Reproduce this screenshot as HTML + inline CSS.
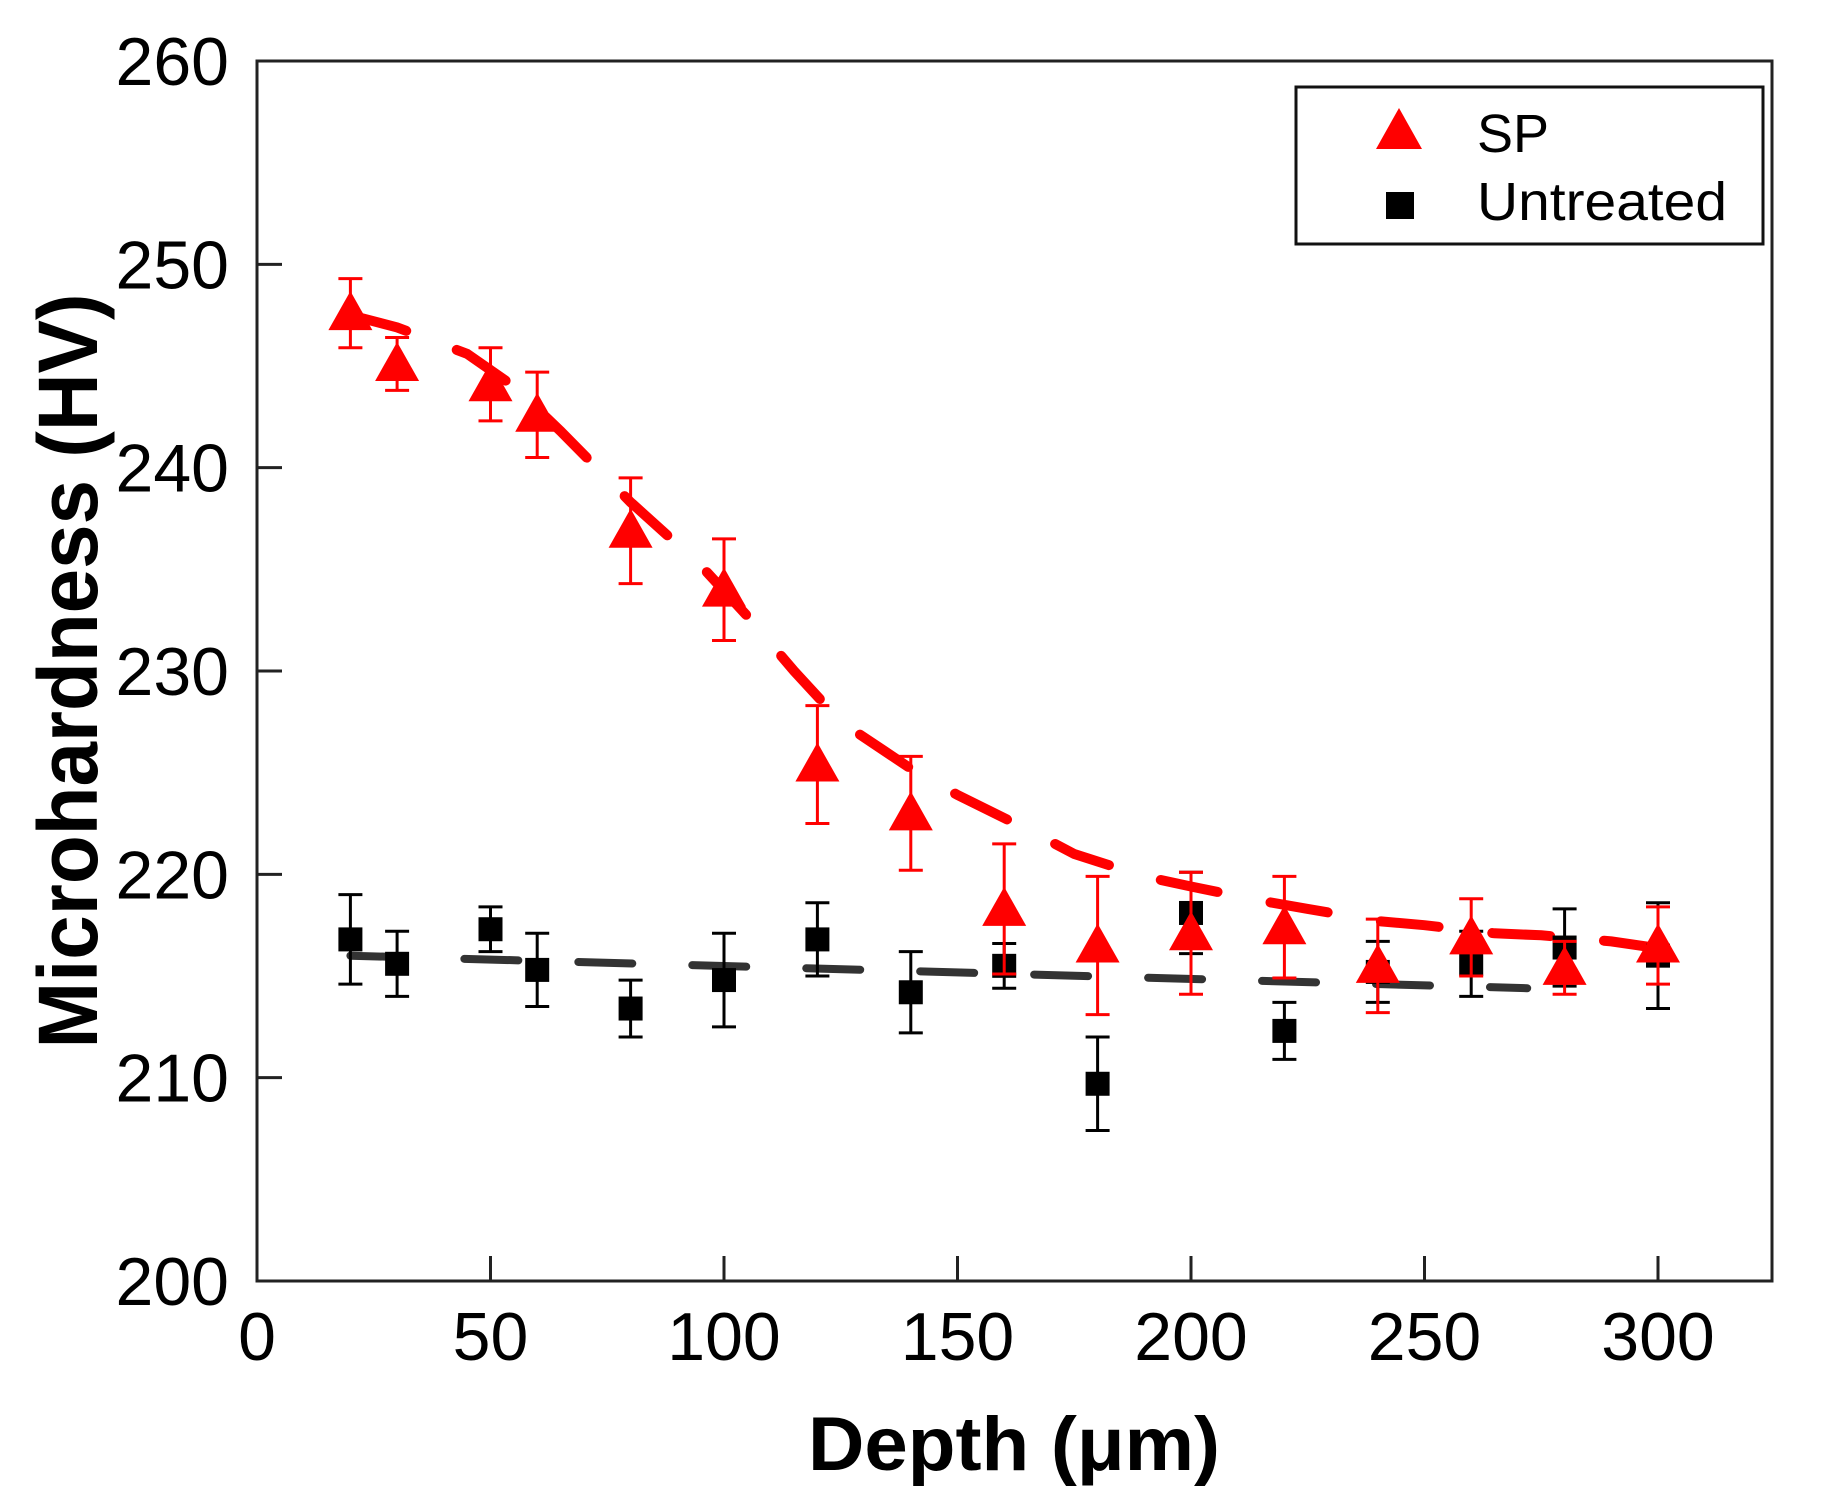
<!DOCTYPE html>
<html><head><meta charset="utf-8"><style>
html,body{margin:0;padding:0;background:#fff;}
svg{display:block;font-family:"Liberation Sans",Arial,sans-serif;}
</style></head><body>
<svg id="chart" width="1824" height="1508" viewBox="0 0 1824 1508" xmlns="http://www.w3.org/2000/svg"></svg>
<script>
const depths = [20,30,50,60,80,100,120,140,160,180,200,220,240,260,280,300];
const spValues = [247.6,245.1,244.1,242.6,236.9,234.0,225.4,223.0,218.3,216.5,217.1,217.4,215.5,216.9,215.4,216.5];
const spErrors = [1.7,1.3,1.8,2.1,2.6,2.5,2.9,2.8,3.2,3.4,3.0,2.5,2.3,1.9,1.3,1.9];
const untreatedValues = [216.8,215.6,217.3,215.3,213.4,214.8,216.8,214.2,215.5,209.7,218.1,212.3,215.2,215.6,216.4,216.0];
const untreatedErrors = [2.2,1.6,1.1,1.8,1.4,2.3,1.8,2.0,1.1,2.3,2.0,1.4,1.5,1.6,1.9,2.6];
const fitDepths = [20,30,45,55,65,80,95,105,115,125,140,150,165,175,190,200,215,225,240,250,265,275,290,305];
const fitSP = [247.5,246.9,245.6,244.0,241.8,238.3,235.2,232.7,230.0,227.5,225.2,223.9,222.2,221.0,219.9,219.4,218.7,218.3,217.7,217.5,217.1,217.0,216.7,216.2];
const fitUntreatedDepths = [20,272];
const fitUntreated = [216.0,214.4];
const xTicks = [0,50,100,150,200,250,300];
const yTicks = [200,210,220,230,240,250,260];

const svg = document.getElementById('chart');
const NS = 'http://www.w3.org/2000/svg';
const X0 = 257, X1 = 1658, Y0 = 1281, Y1 = 61, RIGHT = 1772;
function xs(v){ return X0 + (v/300)*(X1-X0); }
function ys(v){ return Y0 - (v-200)/60*(Y0-Y1); }
function mk(tag, attrs, parent){
  const e = document.createElementNS(NS, tag);
  for (const k in attrs) e.setAttribute(k, attrs[k]);
  (parent||svg).appendChild(e);
  return e;
}

const gFit = mk('g', {});


let dSP = fitDepths.map((d,i)=>(i?'L':'M')+xs(d).toFixed(1)+' '+ys(fitSP[i]).toFixed(1)).join(' ');
const spFit = mk('path', {d:dSP, fill:'none', stroke:'#ff0000', 'stroke-width':10, 'stroke-dasharray':'58 54', 'stroke-linecap':'round'}, gFit);


let dU = fitUntreatedDepths.map((d,i)=>(i?'L':'M')+xs(d).toFixed(1)+' '+ys(fitUntreated[i]).toFixed(1)).join(' ');
const uFit = mk('path', {d:dU, fill:'none', stroke:'#333', 'stroke-width':8, 'stroke-dasharray':'54 60', 'stroke-linecap':'round'}, gFit);



function errBar(g, x, v, e, color){
  const cx = xs(x), t = ys(v+e), b = ys(v-e);
  mk('line', {x1:cx, y1:t, x2:cx, y2:b, stroke:color, 'stroke-width':3}, g);
  mk('line', {x1:cx-12, y1:t, x2:cx+12, y2:t, stroke:color, 'stroke-width':3}, g);
  mk('line', {x1:cx-12, y1:b, x2:cx+12, y2:b, stroke:color, 'stroke-width':3}, g);
}

const gU = mk('g', {});


depths.forEach((d,i)=>{
  errBar(gU, d, untreatedValues[i], untreatedErrors[i], '#000');
  const r = mk('rect', {x:xs(d)-12, y:ys(untreatedValues[i])-12, width:24, height:24, fill:'#000'}, gU);
  
  
});

const gS = mk('g', {});


depths.forEach((d,i)=>{
  errBar(gS, d, spValues[i], spErrors[i], '#ff0000');
  const cx = xs(d), cy = ys(spValues[i]);
  const p = mk('polygon', {points:`${cx},${cy-22} ${cx-22},${cy+17} ${cx+22},${cy+17}`, fill:'#ff0000'}, gS);
  
  
});

const frame = mk('rect', {x:X0, y:Y1, width:RIGHT-X0, height:Y0-Y1, fill:'none', stroke:'#222', 'stroke-width':3});



const gX = mk('g', {});


xTicks.forEach(t=>{
  mk('line', {x1:xs(t), y1:Y0, x2:xs(t), y2:Y0-25, stroke:'#222', 'stroke-width':3}, gX);
  const tx = mk('text', {x:xs(t), y:1360, 'font-size':68, 'text-anchor':'middle', fill:'#000'}, gX);
  tx.textContent = t;
  
  
});
const gY = mk('g', {});


yTicks.forEach(t=>{
  mk('line', {x1:X0, y1:ys(t), x2:X0+25, y2:ys(t), stroke:'#222', 'stroke-width':3}, gY);
  const tx = mk('text', {x:229, y:ys(t)+24, 'font-size':68, 'text-anchor':'end', fill:'#000'}, gY);
  tx.textContent = t;
  
  
});
</script>

<svg style="position:absolute;left:0;top:0" width="1824" height="1508" xmlns="http://www.w3.org/2000/svg">
  <text x="808" y="1470" font-size="76" font-weight="bold" textLength="412" lengthAdjust="spacingAndGlyphs" font-family="Liberation Sans, sans-serif">Depth (μm)</text>
  <text transform="translate(97,671) rotate(-90)" x="0" y="0" font-size="84" font-weight="bold" text-anchor="middle" textLength="755" lengthAdjust="spacingAndGlyphs" font-family="Liberation Sans, sans-serif">Microhardness (HV)</text>
  <g>
    <rect x="1296" y="87" width="467" height="157" fill="#fff" stroke="#111" stroke-width="3"/>
    <polygon points="1399,108 1376,149 1422,149" fill="#ff0000"/>
    <text x="1477" y="152" font-size="54" font-family="Liberation Sans, sans-serif">SP</text>
    <rect x="1386" y="192" width="28" height="27" fill="#000"/>
    <text x="1477" y="220" font-size="54" textLength="250" lengthAdjust="spacingAndGlyphs" font-family="Liberation Sans, sans-serif">Untreated</text>
  </g>
</svg>
</body></html>
